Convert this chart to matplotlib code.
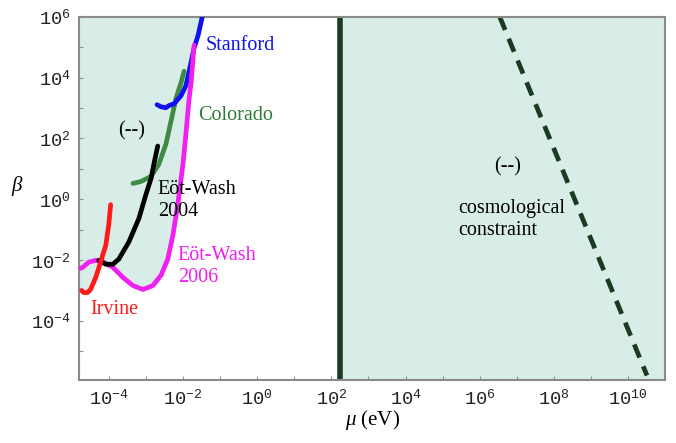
import matplotlib
matplotlib.use("Agg")
import matplotlib.pyplot as plt
import numpy as np
from matplotlib.ticker import FixedLocator, FuncFormatter, NullFormatter

# curves as (log10 mu, log10 beta)
irvine_x = [-4.73, -4.68, -4.57, -4.49, -4.35, -4.22, -4.08, -4.00, -3.95]
irvine_y = [-3.00, -3.07, -3.07, -2.97, -2.57, -2.07, -1.51, -0.84, -0.18]

ew2006_x = [-4.78, -4.70, -4.54, -4.35, -4.14, -3.89, -3.62, -3.35, -3.08, -2.81,
            -2.59, -2.41, -2.27, -2.14, -2.00, -1.92, -1.84, -1.78, -1.70]
ew2006_y = [-2.28, -2.24, -2.07, -2.01, -2.07, -2.24, -2.57, -2.84, -2.97, -2.84,
            -2.50, -1.97, -1.18, -0.18, 1.15, 2.15, 3.24, 3.84, 5.07]

ew2004_x = [-4.27, -4.08, -3.89, -3.73, -3.46, -3.19, -3.00, -2.86, -2.78, -2.68]
ew2004_y = [-2.01, -2.14, -2.14, -1.97, -1.41, -0.64, 0.15, 0.68, 1.18, 1.75]

colorado_x = [-3.35, -3.14, -2.86, -2.65, -2.46, -2.32, -2.19, -2.05, -1.97]
colorado_y = [0.52, 0.58, 0.75, 1.15, 1.81, 2.58, 3.31, 3.84, 4.21]

stanford_x = [-2.70, -2.59, -2.46, -2.38, -2.24, -2.05, -1.92, -1.84, -1.70, -1.59, -1.48]
stanford_y = [3.11, 3.04, 3.01, 3.08, 3.14, 3.41, 3.74, 4.17, 4.97, 5.40, 6.00]

# lower edge of the excluded region on the left
shade_x = [-4.80, -4.73, -4.68, -4.57, -4.49, -4.35, -4.21, -4.14, -3.89, -3.62, -3.35,
           -3.08, -2.81, -2.59, -2.41, -2.27, -2.14, -2.00, -1.92, -1.84, -1.78, -1.70,
           -1.59, -1.48]
shade_y = [-3.00, -3.00, -3.07, -3.07, -2.97, -2.57, -2.05, -2.07, -2.24, -2.57, -2.84,
           -2.97, -2.84, -2.50, -1.97, -1.18, -0.18, 1.15, 2.15, 3.24, 3.84, 5.07,
           5.40, 6.00]

mu_cut = 2.24  # vertical constraint, log10 eV
cosmo_x = [6.54, 10.51]
cosmo_y = [6.0, -5.8]

xmin, xmax = -4.80, 11.0
ymin, ymax = -5.95, 6.0

shade = "#d8ede8"
dark = "#1b3a22"

plt.rcParams["font.family"] = "Liberation Mono"
plt.rcParams["mathtext.fontset"] = "custom"
plt.rcParams["mathtext.rm"] = "Liberation Mono"
plt.rcParams["mathtext.it"] = "Liberation Serif:italic"

fig = plt.figure(figsize=(6.76, 4.43), dpi=100)
ax = fig.add_axes([0.117, 0.142, 0.867, 0.820])


def p(a):
    return 10.0 ** np.asarray(a)


ax.fill_between(p(shade_x), p(shade_y), 10 ** ymax, color=shade, lw=0, zorder=0)
ax.axvspan(10 ** mu_cut, 10 ** xmax, color=shade, lw=0, zorder=0)
ax.axvline(10 ** mu_cut, color=dark, lw=4.0, zorder=2)
ax.plot(p(cosmo_x), p(cosmo_y), color=dark, lw=3.4, dashes=(3.0, 2.0), zorder=2)

lw = 3.4
kw = dict(lw=lw, solid_capstyle="round", solid_joinstyle="round")
ax.plot(p(colorado_x), p(colorado_y), color="#3f8a45", zorder=3, **kw)
ax.plot(p(stanford_x), p(stanford_y), color="#1010f0", zorder=3, **kw)
ax.plot(p(ew2006_x), p(ew2006_y), color="#f020f0", zorder=3, **kw)
ax.plot(p(ew2004_x), p(ew2004_y), color="black", zorder=4, **kw)
ax.plot(p(irvine_x), p(irvine_y), color="#ff1a1a", zorder=5, **kw)

ax.set_xscale("log")
ax.set_yscale("log")
ax.set_xlim(10 ** xmin, 10 ** xmax)
ax.set_ylim(10 ** ymin, 10 ** ymax)

ax.xaxis.set_major_locator(FixedLocator(p(np.arange(-4, 11, 2))))
ax.xaxis.set_minor_locator(FixedLocator(p(np.arange(-3, 11, 2))))
ax.yaxis.set_major_locator(FixedLocator(p(np.arange(-4, 7, 2))))
ax.yaxis.set_minor_locator(FixedLocator(p(np.arange(-5, 6, 2))))
fmt = FuncFormatter(lambda v, pos: r"$10^{%d}$" % round(np.log10(v)))
ax.xaxis.set_major_formatter(fmt)
ax.yaxis.set_major_formatter(fmt)
ax.xaxis.set_minor_formatter(NullFormatter())
ax.yaxis.set_minor_formatter(NullFormatter())
ax.tick_params(which="both", direction="in", length=3, width=0.8, color="#909090",
               labelsize=13.5, labelcolor="#222222", pad=6)

for s in ax.spines.values():
    s.set_color("#8a8a8a")
    s.set_linewidth(1.5)

serif = "Liberation Serif"
ts = 14.5
ls = 1.22
ax.text(p(-1.40), p(5.05), "Stanford", color="#1010f0", family=serif, fontsize=ts, va="center")
ax.text(p(-1.60), p(2.75), "Colorado", color="#2f7a3a", family=serif, fontsize=ts, va="center")
ax.text(p(-3.76), p(2.25), "(--)", color="black", family=serif, fontsize=ts, va="center")
ax.text(p(-2.68), p(-0.05), "Eöt-Wash\n2004", color="black", family=serif, fontsize=ts,
        va="center", linespacing=ls)
ax.text(p(-2.14), p(-2.20), "Eöt-Wash\n2006", color="#f020f0", family=serif, fontsize=ts,
        va="center", linespacing=ls)
ax.text(p(-4.50), p(-3.63), "Irvine", color="#ff1a1a", family=serif, fontsize=ts, va="center")
ax.text(p(6.40), p(1.08), "(--)", color="black", family=serif, fontsize=ts, va="center")
ax.text(p(5.41), p(-0.68), "cosmological\nconstraint", color="black", family=serif,
        fontsize=ts, va="center", linespacing=ls)

ax.set_xlabel(r"$\mu$ (eV)", family=serif, fontsize=15, labelpad=0)
ax.set_ylabel(r"$\beta$", family=serif, fontsize=15, rotation=0, labelpad=10)

fig.savefig("out.png", dpi=100)
